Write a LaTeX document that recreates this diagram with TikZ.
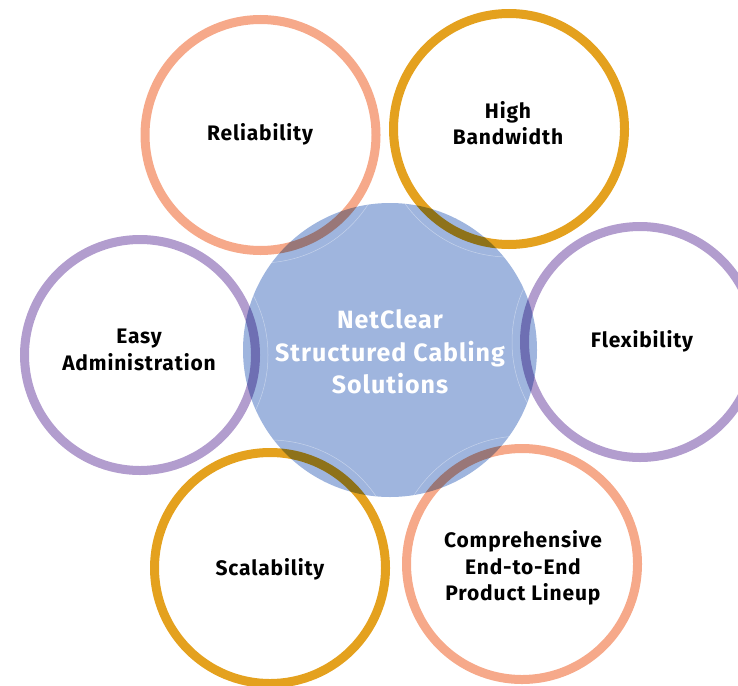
\documentclass[tikz,border=0pt]{standalone}
\usepackage{fontspec}
\setmainfont{Fira Sans}[LetterSpace=4]
\definecolor{salmon}{HTML}{F6A98A}
\definecolor{gold}{HTML}{E4A11E}
\definecolor{lilac}{HTML}{B29DCE}
\definecolor{hubblue}{HTML}{9FB5DE}
\tikzset{
  ring/.style={circle, draw=#1, line width=9pt, minimum size=231pt, inner sep=0pt},
  hub/.style={circle, fill=hubblue, minimum size=294pt, inner sep=0pt},
  lbl/.style={align=center, font=\fontsize{21}{26.5}\selectfont\bfseries, text=black},
  hublbl/.style={align=center, font=\fontsize{25}{32.5}\selectfont\bfseries, text=white},
}
\begin{document}
\begin{tikzpicture}[x=1pt,y=-1pt]
\useasboundingbox (0,0) rectangle (738,685);
\node[hub] (hub) at (390,350) {};
\begin{scope}
  \clip (390,350) circle (147);
  \foreach \cx/\cy in {260.5/135,509/129,640/342,140/355,270/568,522/564}
    \draw[white, opacity=0.4, line width=0.5pt] (\cx,\cy) circle (128);
\end{scope}
\begin{scope}[blend mode=multiply]
  \node[ring=salmon] (rel) at (260.5,135) {};
  \node[ring=gold] (hb) at (509,129) {};
  \node[ring=lilac] (flex) at (640,342) {};
  \node[ring=lilac] (ea) at (140,355) {};
  \node[ring=gold] (sc) at (270,568) {};
  \node[ring=salmon] (cp) at (522,564) {};
\end{scope}
\node[hublbl] (hubt) at (390,352) {NetClear\\Structured Cabling\\Solutions};
\node[lbl] (relt) at (260,134) {Reliability};
\node[lbl] (hbt) at (508,123) {High\\Bandwidth};
\node[lbl] (flext) at (642,341) {Flexibility};
\node[lbl] (eat) at (139,350) {Easy\\Administration};
\node[lbl] (sct) at (270,569) {Scalability};
\node[lbl] (cpt) at (523,568) {Comprehensive\\End-to-End\\Product Lineup};
\end{tikzpicture}
\end{document}
